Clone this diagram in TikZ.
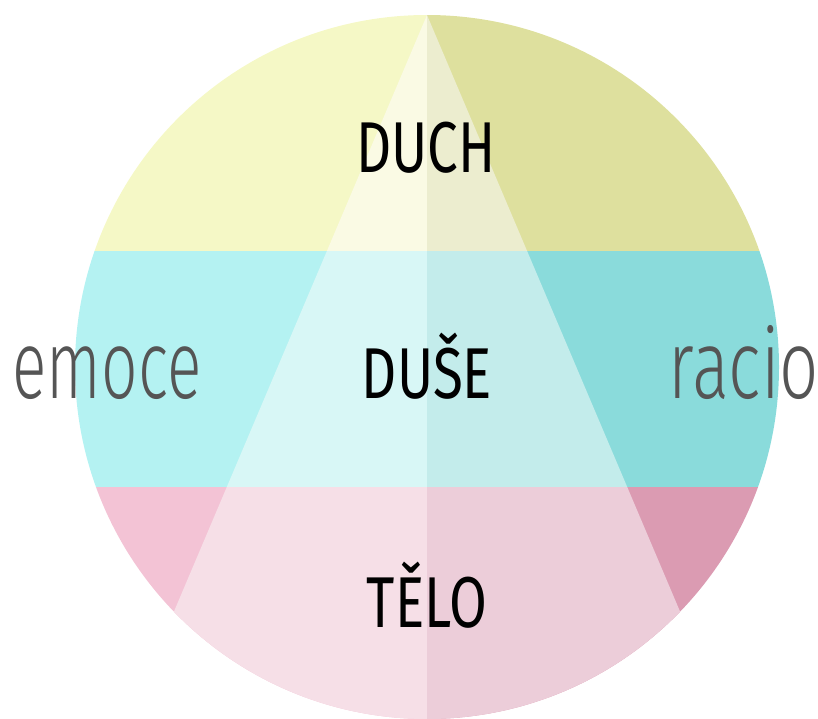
\documentclass[tikz,border=0pt]{standalone}
\usepackage{fontspec}
\newfontfamily\labelfont{Fira Sans Light}
\newfontfamily\layerfont{Fira Sans}
\definecolor{duchout}{RGB}{245,248,198}
\definecolor{duchoutr}{RGB}{222,224,158}
\definecolor{duchin}{RGB}{250,250,228}
\definecolor{duchinr}{RGB}{236,237,207}
\definecolor{duseout}{RGB}{180,242,242}
\definecolor{duseoutr}{RGB}{138,219,219}
\definecolor{dusein}{RGB}{216,247,246}
\definecolor{duseinr}{RGB}{195,236,235}
\definecolor{teloout}{RGB}{243,195,213}
\definecolor{telooutr}{RGB}{219,155,178}
\definecolor{teloin}{RGB}{246,223,231}
\definecolor{teloinr}{RGB}{236,205,217}
\definecolor{sidegray}{RGB}{85,85,85}
\usepackage{tikz}
\newcommand{\narrow}[2][0.72]{\scalebox{#1}[1]{#2}}

\begin{document}
\begin{tikzpicture}[x=1pt, y=-1pt,
    layer/.style={font=\layerfont\fontsize{72}{72}\selectfont, text=black,
      anchor=base, inner sep=0pt},
    side/.style={font=\labelfont\fontsize{97}{97}\selectfont, text=sidegray,
      anchor=base, inner sep=0pt}]
  \useasboundingbox (0,0) rectangle (818,718);
  \begin{scope}
    \clip (427,367) circle[radius=352pt];
    % the three bands, left and right half
    \foreach \ya/\yb/\cl/\cr in {0/251/duchout/duchoutr, 251/487/duseout/duseoutr,
        487/720/teloout/telooutr} {
      \fill[\cl] (0,\ya) rectangle (427,\yb);
      \fill[\cr] (427,\ya) rectangle (818,\yb);
    }
    % pyramid
    \clip (427,15) -- (94,800) -- (760,800) -- cycle;
    \foreach \ya/\yb/\cl/\cr in {0/251/duchin/duchinr, 251/487/dusein/duseinr,
        487/720/teloin/teloinr} {
      \fill[\cl] (0,\ya) rectangle (427,\yb);
      \fill[\cr] (427,\ya) rectangle (818,\yb);
    }
  \end{scope}
  \node[layer] (duch) at (426,172) {\narrow[0.76]{DUCH}};
  \node[layer] (duse) at (427,398) {\narrow[0.76]{DUŠE}};
  \node[layer] (telo) at (427,627) {\narrow[0.76]{TĚLO}};
  \node[side] (emoce) at (107,398) {\narrow[0.66]{emoce}};
  \node[side] (racio) at (744,398) {\narrow[0.71]{racio}};
\end{tikzpicture}
\end{document}
